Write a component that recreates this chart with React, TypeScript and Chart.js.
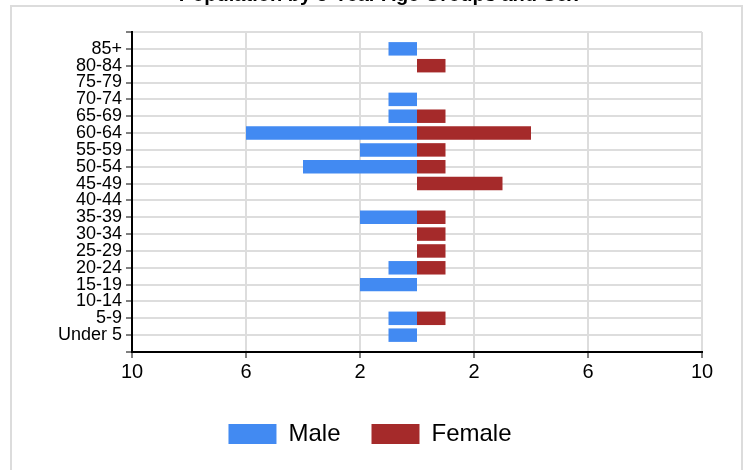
import React, { useEffect, useRef } from "react";
import { Chart, registerables } from "chart.js";

Chart.register(...registerables);

const title = "Population by 5-Year Age Groups and Sex";
const ageGroups = [
  "85+", "80-84", "75-79", "70-74", "65-69", "60-64", "55-59", "50-54", "45-49",
  "40-44", "35-39", "30-34", "25-29", "20-24", "15-19", "10-14", "5-9", "Under 5",
];
const maleValues = [1, 0, 0, 1, 1, 6, 2, 4, 0, 0, 2, 0, 0, 1, 2, 0, 1, 1];
const femaleValues = [0, 1, 0, 0, 1, 4, 1, 1, 3, 0, 1, 1, 1, 1, 0, 0, 1, 0];
const seriesNames = ["Male", "Female"];
const xMin = -10;
const xMax = 10;
const xStep = 4;

const FONT = "'Liberation Sans', Arial, sans-serif";

const legendShift = {
  id: "legendShift",
  afterLayout(chart: any) {
    const lg = chart.legend;
    if (lg) {
      lg.left += 19;
      lg.right += 19;
    }
  },
};

export default function App() {
  const ref = useRef<HTMLCanvasElement | null>(null);

  useEffect(() => {
    if (!ref.current) return;
    const labels = ["", ...ageGroups, ""];
    const male = [null, ...maleValues.map((v) => -v), null];
    const female = [null, ...femaleValues, null];
    const chart = new Chart(ref.current, {
      type: "bar",
      data: {
        labels,
        datasets: [
          {
            label: seriesNames[0],
            data: male,
            backgroundColor: "#428AF2",
            borderWidth: 0,
            barPercentage: 0.8,
            categoryPercentage: 1,
          },
          {
            label: seriesNames[1],
            data: female,
            backgroundColor: "#A52A2A",
            borderWidth: 0,
            barPercentage: 0.8,
            categoryPercentage: 1,
          },
        ],
      },
      plugins: [legendShift],
      options: {
        indexAxis: "y",
        responsive: false,
        animation: false,
        layout: { padding: { top: 32, right: 43, bottom: 14, left: 0 } },
        plugins: {
          title: { display: false },
          tooltip: { enabled: false },
          legend: {
            display: true,
            position: "bottom",
            labels: {
              font: { family: FONT, size: 24 },
              color: "#000",
              boxWidth: 48,
              boxHeight: 20,
              padding: 31,
            },
          },
        },
        scales: {
          x: {
            type: "linear",
            stacked: true,
            min: xMin,
            max: xMax,
            afterFit: (s: any) => {
              s.height = 39;
            },
            ticks: {
              stepSize: xStep,
              autoSkip: false,
              maxRotation: 0,
              padding: 2,
              color: "#000",
              font: { family: FONT, size: 20 },
              callback: (v: any) => String(Math.abs(Number(v))),
            },
            grid: {
              color: "#dddddd",
              lineWidth: 2,
              tickColor: "#000",
              tickWidth: 1,
              tickLength: 6,
            },
            border: { display: true, color: "#000", width: 2, z: 1 },
          },
          y: {
            type: "category",
            stacked: true,
            offset: false,
            afterFit: (s: any) => {
              s.width = 132;
            },
            ticks: {
              autoSkip: false,
              padding: 4,
              color: "#000",
              font: { family: FONT, size: 18 },
            },
            grid: {
              offset: false,
              color: "#dddddd",
              lineWidth: 2,
              tickColor: "#000",
              tickWidth: 1,
              tickLength: 6,
            },
            border: { display: true, color: "#000", width: 2, z: 1 },
          },
        },
      },
    });
    return () => chart.destroy();
  }, []);

  return (
    <div>
      <div
        style={{
          position: "fixed",
          left: 10,
          top: 5,
          width: 733,
          height: 480,
          border: "2px solid #dcdcdc",
          boxSizing: "border-box",
          background: "#fff",
        }}
      />
      <div
        style={{
          position: "fixed",
          left: 12,
          top: -18,
          width: 733,
          textAlign: "center",
          fontFamily: FONT,
          fontWeight: "bold",
          fontSize: 20,
          lineHeight: "24px",
          color: "#000",
          whiteSpace: "nowrap",
        }}
      >
        {title}
      </div>
      <canvas
        ref={ref}
        width={745}
        height={470}
        style={{ position: "fixed", left: 0, top: 0, width: 745, height: 470 }}
      />
    </div>
  );
}
